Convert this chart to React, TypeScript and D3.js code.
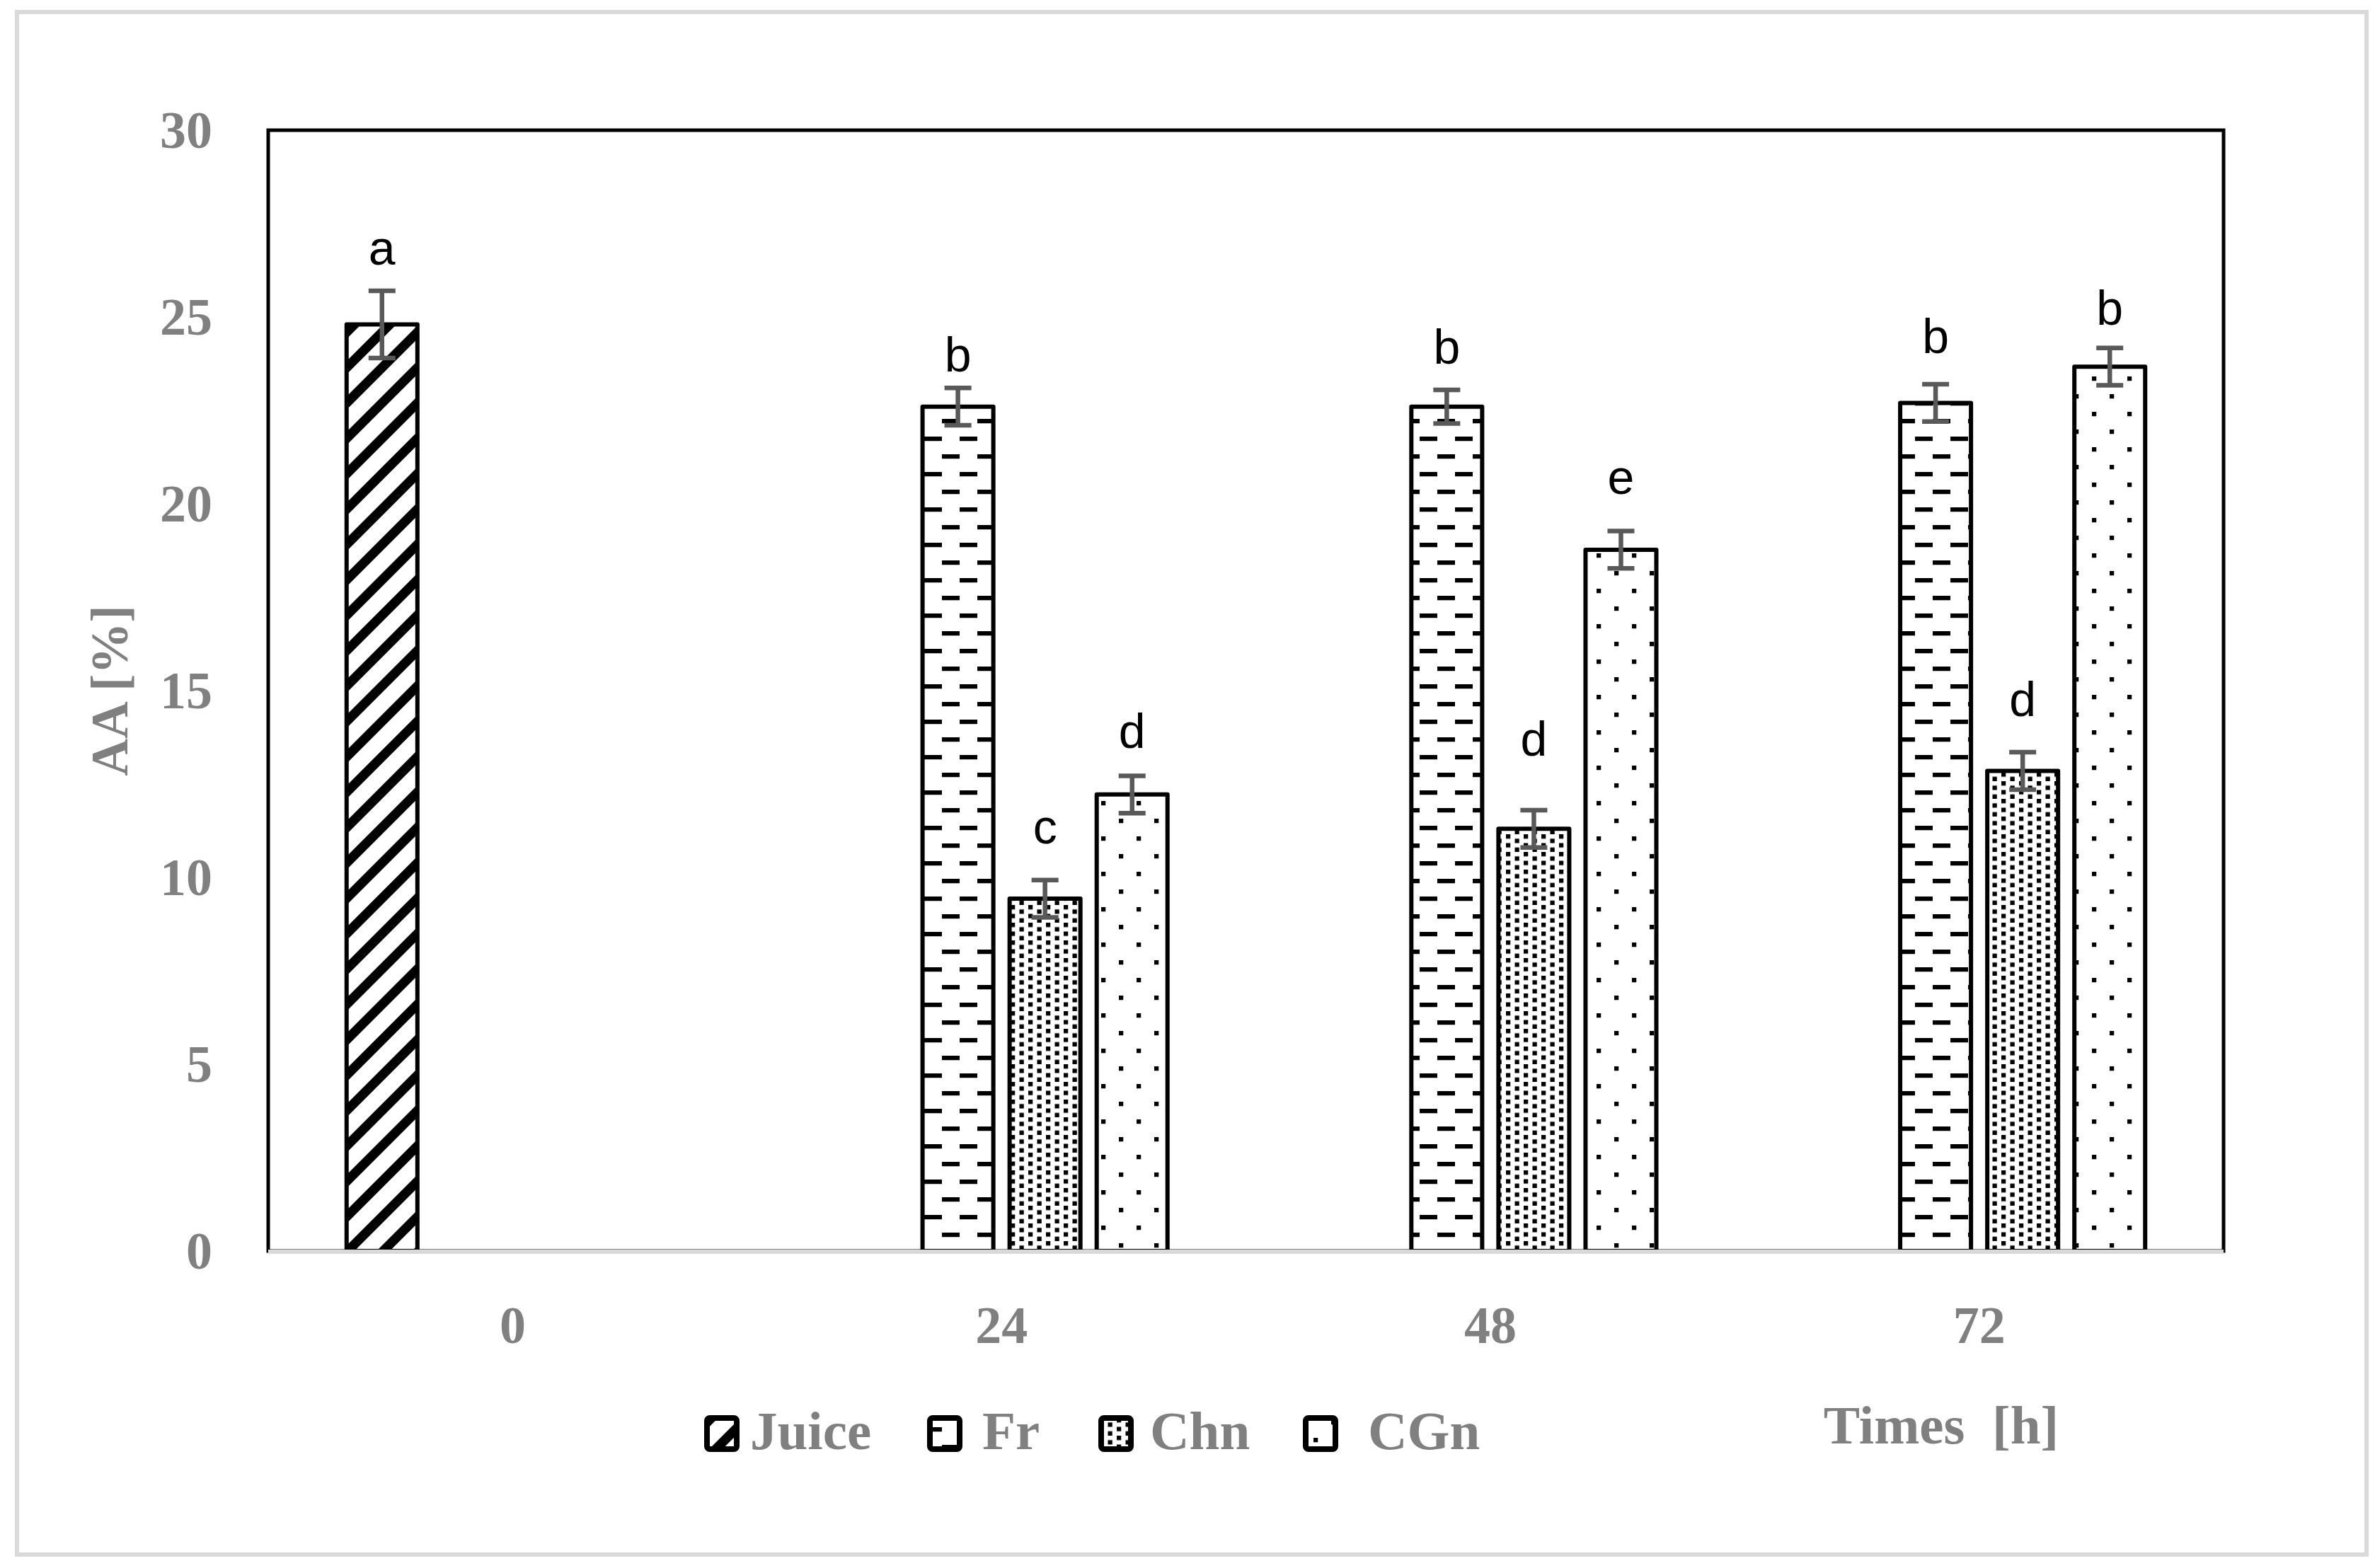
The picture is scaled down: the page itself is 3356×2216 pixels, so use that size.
import React from 'react';
import * as d3 from 'd3';

// ---------- data ----------
const categories: string[] = ['0', '24', '48', '72'];
const seriesNames: string[] = ['Juice', 'Fr', 'Chn', 'CGn'];

const juiceValues: (number | null)[] = [24.8, null, null, null];
const frValues: (number | null)[] = [null, 22.6, 22.6, 22.7];
const chnValues: (number | null)[] = [null, 9.43, 11.3, 12.85];
const cgnValues: (number | null)[] = [null, 12.22, 18.77, 23.67];

const juiceErrors: (number | null)[] = [0.9, null, null, null];
const frErrors: (number | null)[] = [null, 0.5, 0.45, 0.5];
const chnErrors: (number | null)[] = [null, 0.5, 0.5, 0.5];
const cgnErrors: (number | null)[] = [null, 0.5, 0.5, 0.5];

const juiceLetters: (string | null)[] = ['a', null, null, null];
const frLetters: (string | null)[] = [null, 'b', 'b', 'b'];
const chnLetters: (string | null)[] = [null, 'c', 'd', 'd'];
const cgnLetters: (string | null)[] = [null, 'd', 'e', 'b'];

// baseline height (in axis units) of each significance letter
const juiceLetterPos: (number | null)[] = [26.4, null, null, null];
const frLetterPos: (number | null)[] = [null, 23.55, 23.75, 24.04];
const chnLetterPos: (number | null)[] = [null, 10.9, 13.25, 14.31];
const cgnLetterPos: (number | null)[] = [null, 13.46, 20.27, 24.8];

const yTicks: number[] = [0, 5, 10, 15, 20, 25, 30];
const yLabel = 'AA [%]';
const xLabel = 'Times\u00a0\u00a0[h]';

const seriesValues = [juiceValues, frValues, chnValues, cgnValues];
const seriesErrors = [juiceErrors, frErrors, chnErrors, cgnErrors];
const seriesLetters = [juiceLetters, frLetters, chnLetters, cgnLetters];
const seriesLetterPos = [juiceLetterPos, frLetterPos, chnLetterPos, cgnLetterPos];
const patternIds = ['patJuice', 'patFr', 'patChn', 'patCGn'];

// ---------- layout ----------
const W = 3356;
const H = 2216;
const plot = { left: 379, right: 3142, top: 184, bottom: 1768 };
const grey = '#808080';
const serif = '"Liberation Serif", "Times New Roman", serif';
const sans = '"Liberation Sans", Arial, sans-serif';

const legendBoxX = [995, 1310, 1552, 1841];
const legendTextX = [1060, 1388, 1625, 1933];

export default function App() {
  const x0 = d3.scaleBand<string>().domain(categories).range([plot.left, plot.right]).padding(0);
  const x1 = d3
    .scaleBand<string>()
    .domain(seriesNames)
    .range([0, x0.bandwidth()])
    .paddingInner(0.187)
    .paddingOuter(0.9);
  const y = d3.scaleLinear().domain([0, 30]).range([plot.bottom, plot.top]);

  const bars: any[] = [];
  seriesNames.forEach((s, si) => {
    categories.forEach((c, ci) => {
      const v = seriesValues[si][ci];
      if (v == null) return;
      bars.push({
        s,
        si,
        c,
        v,
        e: seriesErrors[si][ci],
        letter: seriesLetters[si][ci],
        lpos: seriesLetterPos[si][ci],
        x: (x0(c) as number) + (x1(s) as number),
        w: x1.bandwidth(),
      });
    });
  });

  return (
    <svg
      width={W}
      height={H}
      viewBox={`0 0 ${W} ${H}`}
      style={{ position: 'absolute', left: 0, top: 0, background: '#fff' }}
    >
      <defs>
        <pattern id="patJuice" patternUnits="userSpaceOnUse" width={50} height={50}>
          <rect width={50} height={50} fill="#fff" />
          <polygon points="0,0 18.75,0 0,18.75" fill="#000" />
          <polygon points="50,0 50,18.75 18.75,50 0,50" fill="#000" />
        </pattern>
        <pattern id="patFr" patternUnits="userSpaceOnUse" width={50} height={50} x={6} y={17}>
          <rect width={50} height={50} fill="#fff" />
          <rect x={0} y={0} width={25} height={6.25} fill="#000" />
          <rect x={25} y={25} width={25} height={6.25} fill="#000" />
        </pattern>
        <pattern id="patChn" patternUnits="userSpaceOnUse" width={25} height={12.5} x={3} y={4}>
          <rect width={25} height={12.5} fill="#fff" />
          <rect x={0} y={0} width={6.25} height={6.25} fill="#000" />
          <rect x={12.5} y={6.25} width={6.25} height={6.25} fill="#000" />
        </pattern>
        <pattern id="patCGn" patternUnits="userSpaceOnUse" width={50} height={50} x={31} y={7}>
          <rect width={50} height={50} fill="#fff" />
          <rect x={0} y={0} width={6.25} height={6.25} fill="#000" />
          <rect x={25} y={25} width={6.25} height={6.25} fill="#000" />
        </pattern>
      </defs>

      {/* outer chart frame */}
      <rect x={24} y={17} width={3320} height={2180} fill="#fff" stroke="#d9d9d9" strokeWidth={6} />

      {/* plot area border */}
      <rect
        x={plot.left}
        y={plot.top}
        width={plot.right - plot.left}
        height={plot.bottom - plot.top}
        fill="none"
        stroke="#000"
        strokeWidth={5}
      />

      {/* y tick labels */}
      {yTicks.map((t) => (
        <text
          key={t}
          x={300}
          y={y(t) + 25}
          textAnchor="end"
          fontFamily={serif}
          fontWeight="bold"
          fontSize={74}
          fill={grey}
        >
          {t}
        </text>
      ))}

      {/* x tick labels */}
      {categories.map((c) => (
        <text
          key={c}
          x={(x0(c) as number) + x0.bandwidth() / 2}
          y={1898}
          textAnchor="middle"
          fontFamily={serif}
          fontWeight="bold"
          fontSize={74}
          fill={grey}
        >
          {c}
        </text>
      ))}

      {/* y axis title */}
      <text
        transform={`translate(180, ${(plot.top + plot.bottom) / 2}) rotate(-90)`}
        textAnchor="middle"
        fontFamily={serif}
        fontWeight="bold"
        fontSize={73}
        fill={grey}
      >
        {yLabel}
      </text>

      {/* bars */}
      {bars.map((b) => (
        <rect
          key={b.s + b.c}
          x={b.x}
          y={y(b.v)}
          width={b.w}
          height={y(0) - y(b.v)}
          fill={`url(#${patternIds[b.si]})`}
          stroke="#000"
          strokeWidth={6}
          strokeLinejoin="round"
        />
      ))}

      {/* error bars */}
      {bars.map((b) => {
        if (b.e == null) return null;
        const cx = b.x + b.w / 2;
        const yt = y(b.v + b.e);
        const yb = y(b.v - b.e);
        return (
          <g key={'e' + b.s + b.c} stroke="#595959" strokeWidth={6.5}>
            <line x1={cx} x2={cx} y1={yt} y2={yb} />
            <line x1={cx - 19} x2={cx + 19} y1={yt} y2={yt} />
            <line x1={cx - 19} x2={cx + 19} y1={yb} y2={yb} />
          </g>
        );
      })}

      {/* x axis line */}
      <line x1={plot.left} x2={plot.right} y1={plot.bottom + 1} y2={plot.bottom + 1} stroke="#d9d9d9" strokeWidth={6} />

      {/* significance letters */}
      {bars.map((b) =>
        b.letter ? (
          <text
            key={'l' + b.s + b.c}
            x={b.x + b.w / 2}
            y={y(b.lpos)}
            textAnchor="middle"
            fontFamily={sans}
            fontSize={68}
            fill="#000"
          >
            {b.letter}
          </text>
        ) : null
      )}

      {/* legend */}
      {seriesNames.map((s, i) => (
        <g key={'lg' + s}>
          <rect
            x={legendBoxX[i] + 4}
            y={2004}
            width={42}
            height={44}
            rx={4}
            fill={`url(#${patternIds[i]})`}
            stroke="#000"
            strokeWidth={8}
          />
          <text x={legendTextX[i]} y={2048} fontFamily={serif} fontWeight="bold" fontSize={77} fill={grey}>
            {s}
          </text>
        </g>
      ))}
      <text x={2743} y={2040} textAnchor="middle" fontFamily={serif} fontWeight="bold" fontSize={77} fill={grey}>
        {xLabel}
      </text>
    </svg>
  );
}
